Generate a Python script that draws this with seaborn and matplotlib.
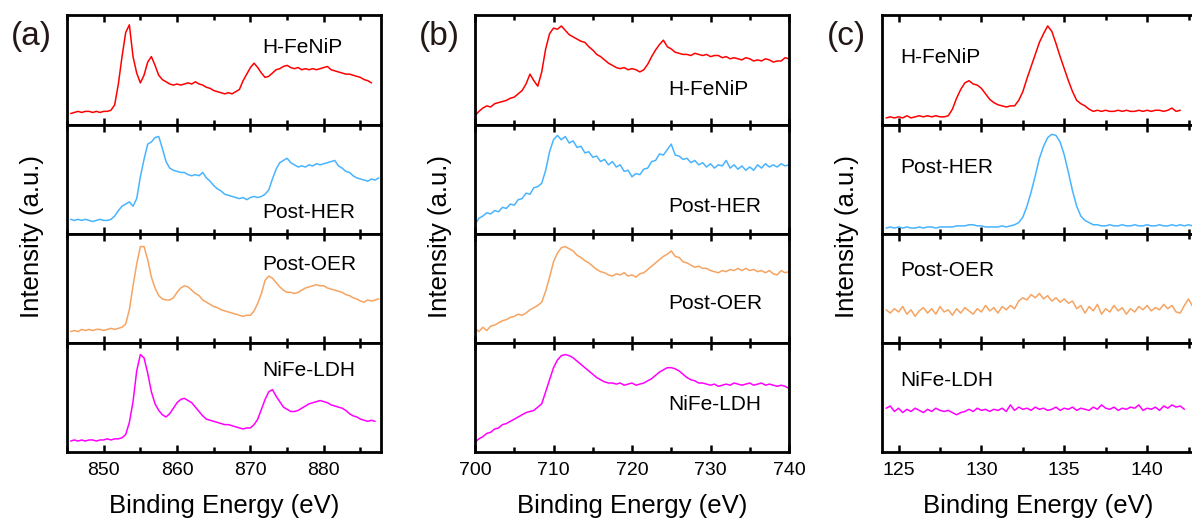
import numpy as np
import matplotlib
matplotlib.use("Agg")
import matplotlib.pyplot as plt
import seaborn as sns
from matplotlib.ticker import MultipleLocator

samples = ["H-FeNiP", "Post-HER", "Post-OER", "NiFe-LDH"]
line_colors = ["#ff0000", "#48b4ff", "#f5a462", "#ff00ff"]

# ---------------- Panel (a): Ni 2p, start 845.5 eV, step 0.5 eV ----------------
a_start, a_step = 845.5, 0.5
a_hfenip = [
    10, 11, 12, 11, 12, 12, 11, 12, 11, 12,
    12, 13, 18, 37, 62, 84, 91, 62, 47, 38,
    45, 57, 62, 54, 45, 41, 39, 37, 36, 37,
    36, 37, 38, 37, 39, 37, 36, 34, 33, 31,
    30, 29, 28, 29, 28, 30, 32, 40, 46, 52,
    56, 52, 47, 43, 44, 47, 50, 51, 53, 54,
    52, 51, 52, 50, 51, 50, 51, 50, 51, 52,
    53, 50, 49, 48, 47, 46, 46, 45, 44, 43,
    41, 40, 38]
a_post_her = [
    13, 12, 13, 12, 13, 12, 11, 12, 13, 12,
    12, 13, 16, 21, 25, 27, 29, 25, 32, 52,
    68, 82, 84, 88, 89, 78, 66, 60, 58, 57,
    56, 56, 54, 53, 54, 53, 56, 51, 48, 44,
    41, 39, 36, 35, 34, 33, 32, 33, 31, 33,
    34, 33, 34, 36, 40, 50, 59, 65, 67, 69,
    65, 63, 61, 62, 61, 63, 62, 64, 63, 64,
    65, 66, 67, 62, 60, 57, 56, 53, 51, 50,
    49, 48, 50, 49, 51]
a_post_oer = [
    10, 11, 10, 12, 11, 12, 11, 12, 12, 11,
    12, 13, 12, 13, 14, 17, 30, 52, 72, 88,
    88, 76, 60, 50, 43, 40, 39, 39, 41, 46,
    50, 52, 51, 48, 45, 43, 39, 37, 35, 33,
    32, 30, 29, 28, 27, 26, 25, 24, 25, 25,
    29, 36, 45, 57, 61, 59, 55, 51, 48, 46,
    46, 45, 46, 48, 50, 51, 52, 53, 52, 52,
    50, 49, 48, 47, 46, 44, 43, 41, 40, 38,
    37, 39, 38, 39, 40]
a_nife_ldh = [
    10, 11, 10, 11, 10, 11, 11, 10, 11, 11,
    12, 11, 12, 12, 13, 16, 27, 46, 74, 89,
    86, 72, 55, 44, 38, 34, 32, 35, 40, 45,
    48, 49, 47, 45, 41, 37, 33, 30, 29, 28,
    27, 26, 25, 25, 24, 23, 22, 21, 22, 22,
    25, 30, 39, 48, 55, 57, 51, 46, 41, 39,
    37, 37, 38, 40, 42, 44, 45, 46, 47, 46,
    45, 43, 42, 41, 40, 38, 35, 33, 32, 30,
    29, 28, 29, 28]

# ---------------- Panel (b): Fe 2p, start 700.0 eV, step 0.5 eV ----------------
b_start, b_step = 700.0, 0.5
b_hfenip = [
    8, 12, 15, 17, 16, 19, 20, 21, 22, 24,
    25, 28, 31, 37, 46, 40, 35, 48, 69, 83,
    88, 87, 90, 86, 82, 80, 78, 76, 75, 71,
    68, 64, 62, 59, 56, 54, 52, 51, 52, 50,
    51, 50, 48, 50, 55, 62, 68, 73, 77, 71,
    69, 66, 65, 64, 64, 63, 65, 64, 63, 64,
    62, 63, 63, 61, 62, 60, 61, 60, 59, 61,
    60, 58, 59, 58, 60, 59, 57, 58, 58, 61,
    60]
b_post_her = [
    8, 14, 16, 19, 18, 21, 20, 24, 23, 27,
    26, 31, 32, 37, 36, 42, 43, 46, 58, 75,
    86, 90, 86, 89, 83, 85, 79, 80, 74, 75,
    70, 71, 66, 68, 63, 66, 61, 63, 57, 58,
    52, 55, 54, 59, 60, 66, 67, 73, 72, 77,
    82, 72, 71, 68, 69, 65, 67, 63, 65, 61,
    64, 60, 63, 62, 67, 60, 63, 59, 62, 58,
    61, 58, 63, 60, 64, 61, 63, 61, 64, 62,
    63]
b_post_oer = [
    13, 10, 14, 11, 15, 16, 18, 20, 21, 23,
    24, 26, 25, 27, 30, 32, 34, 37, 47, 60,
    74, 82, 87, 88, 86, 84, 80, 78, 75, 73,
    70, 67, 65, 64, 62, 61, 63, 62, 64, 61,
    62, 60, 63, 64, 67, 70, 73, 76, 79, 81,
    84, 79, 78, 74, 73, 71, 69, 70, 68, 68,
    66, 65, 64, 66, 65, 67, 66, 68, 66, 68,
    66, 67, 65, 66, 64, 66, 63, 62, 66, 64,
    65]
b_nife_ldh = [
    9, 12, 14, 17, 18, 21, 22, 25, 26, 28,
    30, 32, 34, 36, 37, 38, 41, 44, 55, 66,
    77, 84, 88, 89, 88, 86, 83, 80, 77, 74,
    71, 68, 66, 64, 63, 63, 62, 63, 61, 62,
    63, 61, 62, 63, 65, 67, 70, 73, 75, 77,
    77, 76, 74, 71, 68, 66, 65, 63, 63, 62,
    61, 62, 60, 61, 62, 61, 63, 62, 61, 62,
    63, 61, 62, 63, 61, 62, 61, 60, 61, 60,
    58]

# ---------------- Panel (c): P 2p, start 124.25 eV, step 0.25 eV ----------------
c_start, c_step = 124.25, 0.25
c_hfenip = [
    6, 7, 6, 7, 6, 8, 6, 7, 8, 7,
    8, 7, 8, 7, 7, 8, 14, 24, 32, 38,
    40, 37, 36, 33, 28, 23, 20, 18, 17, 16,
    17, 17, 22, 30, 42, 53, 64, 75, 83, 90,
    85, 74, 62, 51, 40, 30, 22, 19, 17, 14,
    12, 13, 12, 13, 12, 12, 13, 12, 13, 12,
    12, 13, 12, 13, 12, 13, 13, 12, 13, 15,
    12, 13]
c_post_her = [
    5, 6, 5, 6, 5, 6, 5, 5, 6, 5,
    6, 6, 5, 6, 6, 6, 6, 7, 7, 7,
    8, 8, 7, 7, 6, 6, 6, 6, 7, 6,
    7, 8, 10, 15, 25, 38, 53, 69, 80, 88,
    91, 90, 84, 72, 56, 39, 25, 16, 12, 10,
    8, 8, 7, 7, 8, 7, 7, 8, 7, 7,
    8, 7, 7, 8, 7, 7, 8, 7, 7, 8,
    7, 8, 7, 8, 7, 7]
c_post_oer = [
    30, 27, 31, 28, 33, 26, 30, 24, 29, 32,
    27, 31, 26, 33, 28, 30, 25, 31, 27, 32,
    29, 26, 31, 28, 34, 29, 32, 27, 33, 30,
    34, 31, 38, 41, 39, 44, 41, 45, 40, 43,
    38, 41, 37, 40, 36, 38, 31, 34, 27, 33,
    29, 35, 26, 31, 28, 34, 29, 32, 26, 31,
    28, 33, 30, 34, 29, 32, 30, 35, 31, 34,
    28, 27, 34, 40, 33, 36]
c_nife_ldh = [
    40, 42, 37, 40, 36, 39, 37, 40, 38, 36,
    39, 37, 40, 38, 37, 38, 36, 34, 36, 37,
    39, 37, 40, 38, 39, 37, 39, 38, 40, 37,
    43, 38, 41, 39, 40, 38, 41, 39, 40, 38,
    39, 41, 38, 40, 39, 41, 38, 40, 39, 38,
    41, 39, 43, 40, 39, 41, 38, 40, 39, 41,
    40, 43, 38, 40, 39, 41, 38, 42, 40, 43,
    41, 42, 39]

panels = [
    dict(letter="(a)", start=a_start, step=a_step,
         series=[a_hfenip, a_post_her, a_post_oer, a_nife_ldh],
         xlim=(845.0, 887.8), major=10, minor=5, px=(67, 381),
         labels=[(0.621, 0.706), (0.621, 0.19), (0.621, 0.72), (0.621, 0.745)]),
    dict(letter="(b)", start=b_start, step=b_step,
         series=[b_hfenip, b_post_her, b_post_oer, b_nife_ldh],
         xlim=(700.0, 740.0), major=10, minor=5, px=(475, 789),
         labels=[(0.615, 0.32), (0.615, 0.25), (0.615, 0.36), (0.615, 0.43)]),
    dict(letter="(c)", start=c_start, step=c_step,
         series=[c_hfenip, c_post_her, c_post_oer, c_nife_ldh],
         xlim=(124.0, 142.83), major=5, minor=2.5, px=(882, 1194),
         labels=[(0.058, 0.615), (0.058, 0.605), (0.058, 0.66), (0.058, 0.655)]),
]

sns.set_theme(style="ticks", rc={
    "axes.edgecolor": "black",
    "axes.linewidth": 2.0,
    "xtick.color": "black",
    "text.color": "black",
})
plt.rcParams["font.family"] = ["Liberation Sans", "DejaVu Sans"]

W, H = 1192, 522
fig = plt.figure(figsize=(W / 100, H / 100), dpi=100)
rows = [15, 124.5, 233.5, 342.5, 452]

for p in panels:
    l, r = p["px"]
    for i, (name, yv, col) in enumerate(zip(samples, p["series"], line_colors)):
        top, bot = rows[i], rows[i + 1]
        ax = fig.add_axes([l / W, 1 - bot / H, (r - l) / W, (bot - top) / H])
        x = p["start"] + p["step"] * np.arange(len(yv))
        sns.lineplot(x=x, y=np.asarray(yv, dtype=float), ax=ax, color=col,
                     linewidth=1.1, estimator=None, sort=False, legend=False)
        ax.set_xlim(*p["xlim"])
        ax.set_ylim(0, 100)
        ax.set_yticks([])
        ax.set_xlabel("")
        ax.set_ylabel("")
        ax.xaxis.set_major_locator(MultipleLocator(p["major"]))
        ax.xaxis.set_minor_locator(MultipleLocator(p["minor"]))
        ax.tick_params(axis="x", which="both", direction="in", top=True, bottom=True,
                       width=1.8, color="black", labelsize=14, pad=7,
                       labelbottom=(i == 3))
        ax.tick_params(axis="x", which="major", length=5)
        ax.tick_params(axis="x", which="minor", length=3.5)
        for s in ax.spines.values():
            s.set_linewidth(2.0)
            s.set_color("black")
        lx, ly = p["labels"][i]
        ax.text(lx, ly, name, transform=ax.transAxes, fontsize=15,
                ha="left", va="center", color="black")
    cx = (l + r) / 2 / W
    fig.text(cx, 1 - 506 / H, "Binding Energy (eV)", ha="center", va="center",
             fontsize=18.5, color="black")
    fig.text((l - 35) / W, 1 - 236 / H, "Intensity (a.u.)", rotation=90,
             ha="center", va="center", fontsize=18.5, color="black")
    fig.text((l - 36) / W, 1 - 37 / H, p["letter"], ha="center", va="center",
             fontsize=24, color="#231815")

fig.savefig("out.png", dpi=100)
